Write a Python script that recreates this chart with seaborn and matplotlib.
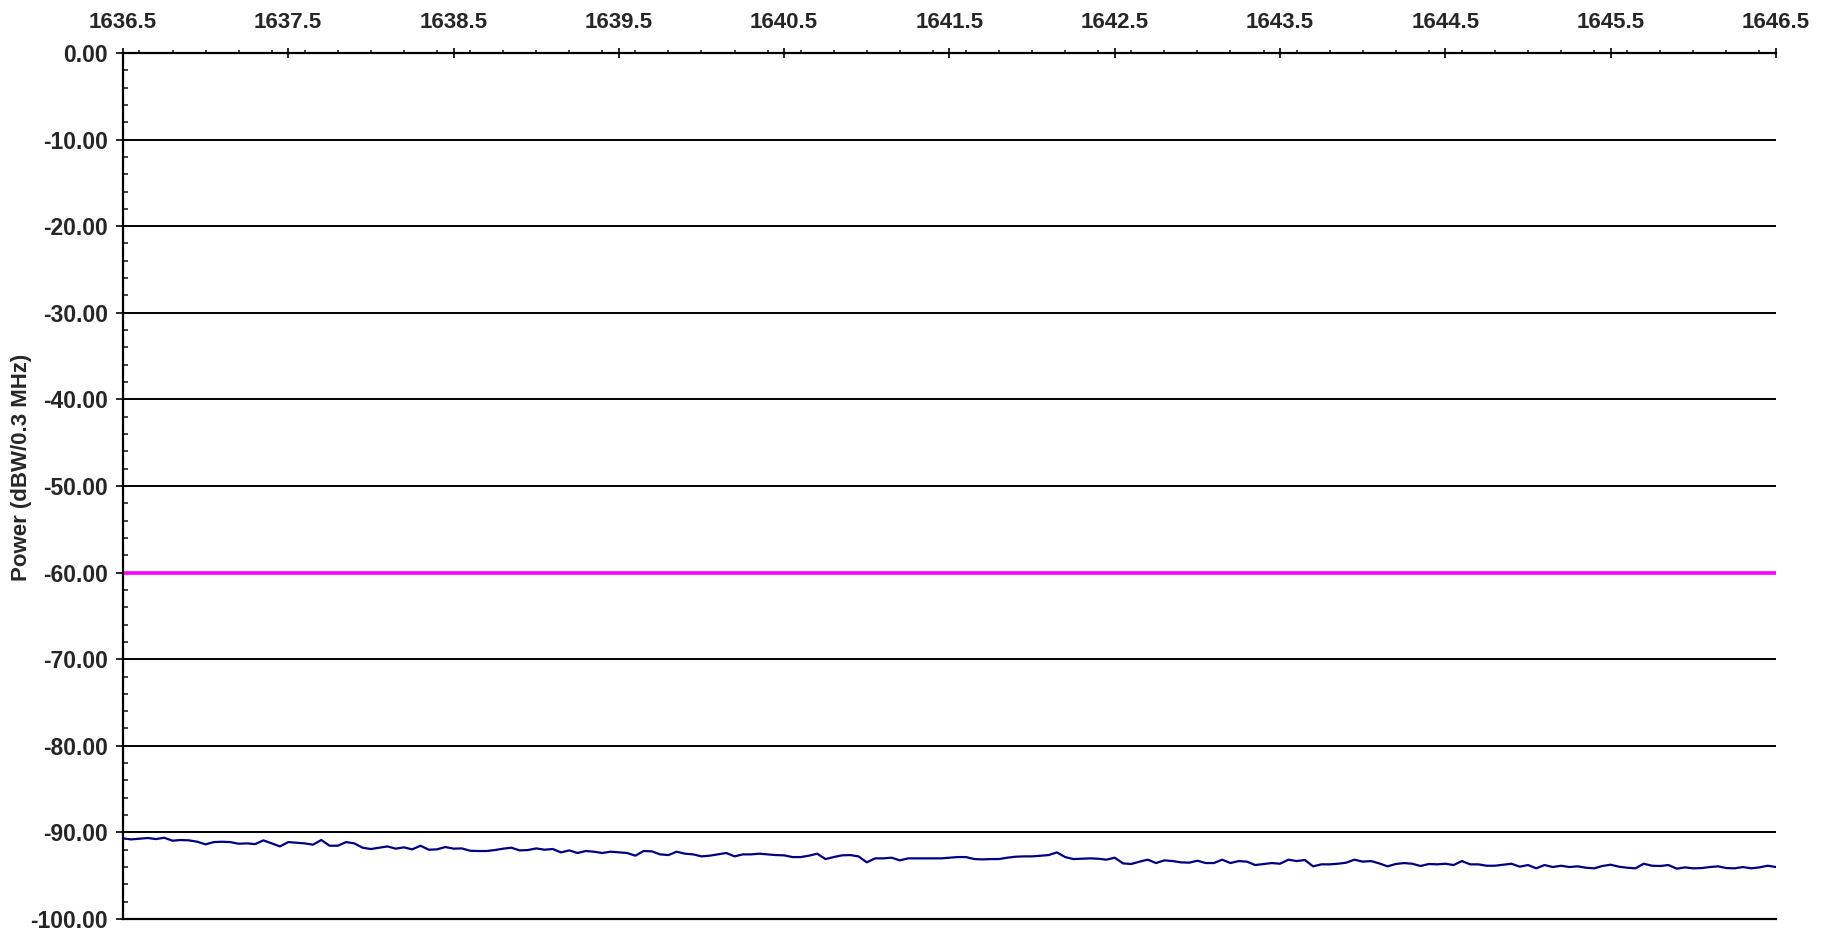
import numpy as np
import pandas as pd
import matplotlib
matplotlib.use("Agg")
import matplotlib.pyplot as plt
import seaborn as sns
from matplotlib.ticker import MultipleLocator, FormatStrFormatter

# trace, sweep 1636.5 - 1646.5 MHz, one value every 0.05 MHz
freq_start = 1636.5
freq_stop = 1646.5
power_dbw = [
    -90.69, -90.81, -90.73, -90.65, -90.77, -90.62, -90.96, -90.88, -90.92, -91.08,
    -91.38, -91.12, -91.08, -91.12, -91.31, -91.27, -91.35, -90.92, -91.27, -91.62,
    -91.12, -91.19, -91.27, -91.42, -90.88, -91.54, -91.54, -91.12, -91.27, -91.77,
    -91.92, -91.77, -91.62, -91.88, -91.73, -91.96, -91.54, -92.00, -91.96, -91.69,
    -91.88, -91.85, -92.12, -92.15, -92.15, -92.04, -91.88, -91.77, -92.08, -92.04,
    -91.85, -92.00, -91.92, -92.31, -92.08, -92.38, -92.15, -92.23, -92.38, -92.23,
    -92.31, -92.38, -92.69, -92.15, -92.19, -92.54, -92.62, -92.23, -92.46, -92.54,
    -92.77, -92.69, -92.54, -92.38, -92.77, -92.54, -92.54, -92.46, -92.54, -92.62,
    -92.65, -92.85, -92.85, -92.69, -92.46, -93.08, -92.85, -92.65, -92.62, -92.77,
    -93.46, -93.00, -93.00, -92.92, -93.23, -93.00, -93.00, -93.00, -93.00, -93.00,
    -92.92, -92.85, -92.85, -93.08, -93.12, -93.08, -93.08, -92.92, -92.81, -92.77,
    -92.77, -92.69, -92.62, -92.31, -92.85, -93.08, -93.04, -93.00, -93.04, -93.15,
    -92.92, -93.58, -93.65, -93.38, -93.15, -93.54, -93.23, -93.31, -93.46, -93.50,
    -93.27, -93.54, -93.54, -93.15, -93.54, -93.31, -93.38, -93.77, -93.65, -93.54,
    -93.62, -93.15, -93.31, -93.19, -93.92, -93.69, -93.69, -93.62, -93.50, -93.15,
    -93.38, -93.31, -93.58, -93.92, -93.65, -93.54, -93.62, -93.88, -93.65, -93.69,
    -93.62, -93.77, -93.31, -93.69, -93.69, -93.85, -93.85, -93.73, -93.62, -93.96,
    -93.77, -94.15, -93.77, -94.00, -93.85, -94.00, -93.92, -94.08, -94.15, -93.88,
    -93.73, -93.96, -94.08, -94.15, -93.62, -93.85, -93.88, -93.77, -94.19, -94.04,
    -94.15, -94.12, -94.00, -93.92, -94.12, -94.15, -94.00, -94.15, -94.04, -93.85,
    -94.00,
]
freq_ticks = [1636.5, 1637.5, 1638.5, 1639.5, 1640.5, 1641.5,
              1642.5, 1643.5, 1644.5, 1645.5, 1646.5]
limit_dbw = -60.0
y_min, y_max = -100.0, 0.0

freq_mhz = np.linspace(freq_start, freq_stop, len(power_dbw))
df = pd.DataFrame({"freq": freq_mhz, "power": power_dbw})

sns.set_style("white")
plt.rcParams["font.family"] = ["Liberation Sans", "DejaVu Sans"]
plt.rcParams["font.weight"] = "bold"

fig = plt.figure(figsize=(18.32, 9.31), dpi=100)
ax = fig.add_axes([0.0671, 0.0129, 0.9023, 0.9302])

# horizontal grid every 10 dB
for yv in np.arange(-90, 0, 10):
    ax.axhline(yv, color="black", lw=1.4, zorder=1)
ax.axhline(limit_dbw, color="#ff00ff", lw=2.6, zorder=2)

sns.lineplot(data=df, x="freq", y="power", color="#000080", lw=1.6, ax=ax, zorder=3)

ax.set_xlim(freq_start, freq_stop)
ax.set_ylim(y_min, y_max)

ax.xaxis.tick_top()
ax.set_xticks(freq_ticks)
ax.xaxis.set_minor_locator(MultipleLocator(0.2))
ax.xaxis.set_major_formatter(FormatStrFormatter("%.1f"))
ax.yaxis.set_major_locator(MultipleLocator(10))
ax.yaxis.set_minor_locator(MultipleLocator(2))
ax.yaxis.set_major_formatter(FormatStrFormatter("%.2f"))

ax.tick_params(axis="x", which="major", direction="inout", length=7, width=1.4,
               pad=11, labelsize=16, top=True, bottom=False)
ax.tick_params(axis="x", which="minor", direction="out", length=2.5, width=1.2,
               top=True, bottom=False)
ax.tick_params(axis="y", which="major", direction="out", length=5, width=1.4,
               pad=6, labelsize=16.5, left=True)
ax.tick_params(axis="y", which="minor", direction="in", length=3.6, width=1.2, left=True)

for lab in ax.get_xticklabels() + ax.get_yticklabels():
    lab.set_fontweight("bold")

ax.set_xlabel("")
ax.set_ylabel("Power (dBW/0.3 MHz)", fontsize=16, fontweight="bold")
ax.yaxis.set_label_coords(-0.055, 0.522)

for side in ["top", "left", "bottom"]:
    ax.spines[side].set_color("black")
    ax.spines[side].set_linewidth(1.6)
ax.spines["right"].set_visible(False)

fig.savefig("out.png", dpi=100, facecolor="white")
